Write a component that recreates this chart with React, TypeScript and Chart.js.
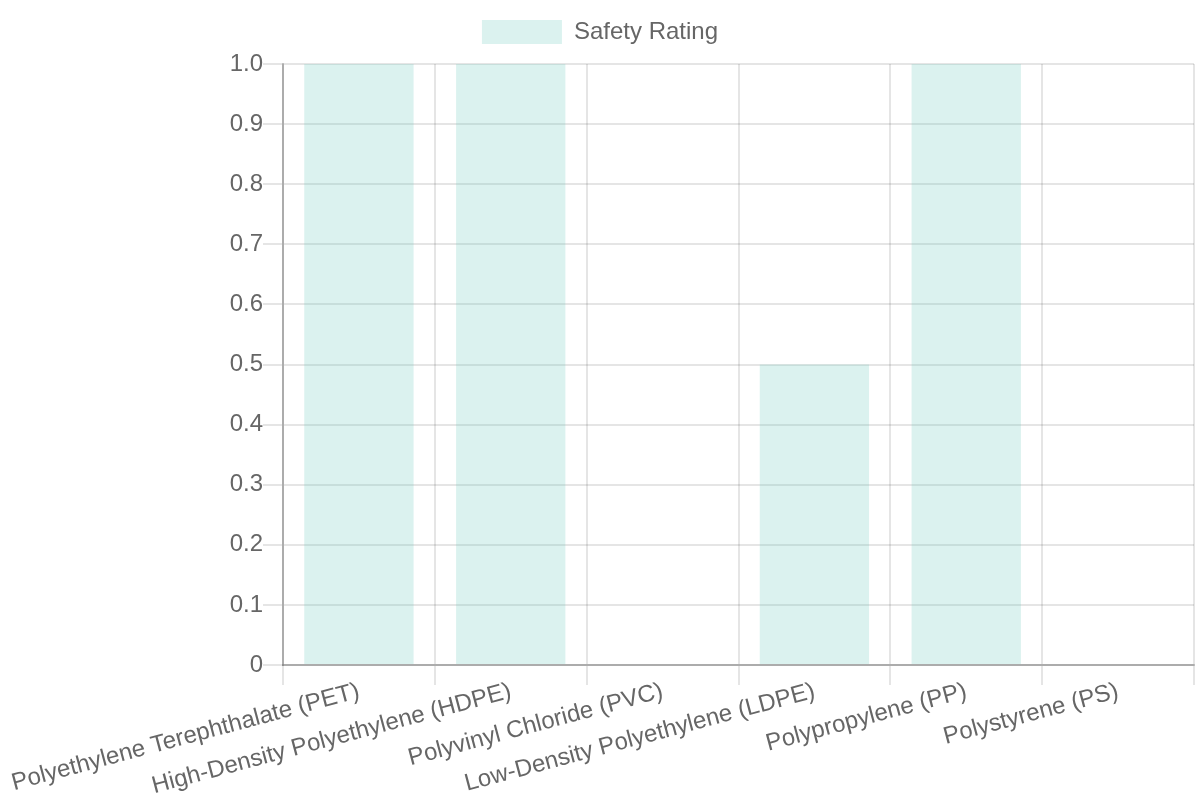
import React, { useEffect, useRef } from "react";
import { Chart, registerables } from "chart.js";

Chart.register(...registerables);

const plastics = [
  "Polyethylene Terephthalate (PET)",
  "High-Density Polyethylene (HDPE)",
  "Polyvinyl Chloride (PVC)",
  "Low-Density Polyethylene (LDPE)",
  "Polypropylene (PP)",
  "Polystyrene (PS)",
];

const safetyRatings = [1, 1, 0, 0.5, 1, 0];

export default function App() {
  const canvasRef = useRef<HTMLCanvasElement | null>(null);

  useEffect(() => {
    const canvas = canvasRef.current;
    if (!canvas) return;
    const chart = new Chart(canvas, {
      type: "bar",
      data: {
        labels: plastics,
        datasets: [
          {
            label: "Safety Rating",
            data: safetyRatings,
            backgroundColor: "rgba(75, 190, 176, 0.2)",
          },
        ],
      },
      options: {
        responsive: false,
        animation: false,
        devicePixelRatio: 2,
        scales: {
          x: {
            grid: { tickLength: 10 },
            border: { color: "rgba(0, 0, 0, 0.25)" },
            ticks: { padding: -4, minRotation: 15, maxRotation: 15 },
            afterFit: (scale: any) => {
              scale.height = 67.5;
              scale.paddingLeft = 0;
              scale.paddingRight = 3;
            },
          },
          y: {
            beginAtZero: true,
            max: 1,
            grid: { tickLength: 10 },
            border: { color: "rgba(0, 0, 0, 0.25)" },
            ticks: { padding: 0 },
            afterFit: (scale: any) => {
              scale.width = 141.5;
            },
          },
        },
      },
    });
    // show the high-resolution canvas at its full pixel size
    canvas.style.width = "1200px";
    canvas.style.height = "800px";
    return () => chart.destroy();
  }, []);

  return (
    <div style={{ position: "absolute", left: 0, top: 0, width: 1200, height: 800, background: "#fff" }}>
      <canvas ref={canvasRef} width={600} height={400} />
    </div>
  );
}
